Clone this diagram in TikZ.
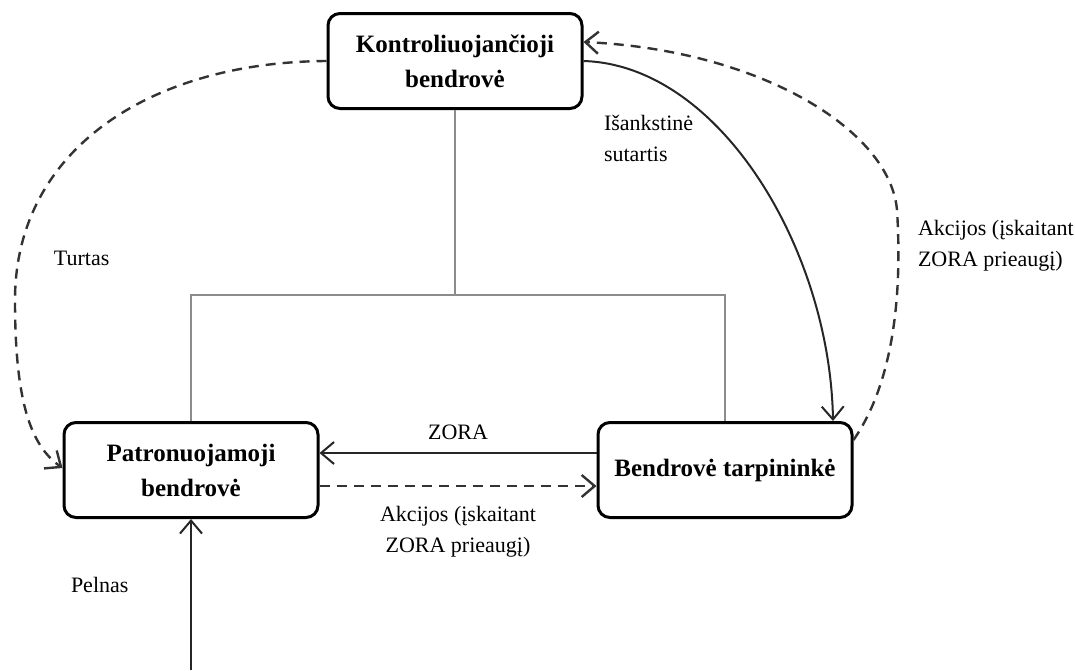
\documentclass[tikz,border=0pt]{standalone}
\usepackage{fontspec}
\setmainfont{Liberation Serif}
\usetikzlibrary{arrows.meta}

\begin{document}
\begin{tikzpicture}[x=0.5pt, y=-0.5pt, line width=1pt,
    >={Straight Barb[length=6.5pt,width=11pt]},
    firm/.style={draw, line width=1.5pt, rounded corners=6pt, align=center,
      minimum width=127pt, minimum height=47.5pt,
      font=\fontsize{12.5}{17.5}\selectfont\bfseries},
    flow/.style={draw=black!85},
    share/.style={draw=black!80, line width=1.2pt, dash pattern=on 5pt off 3.5pt},
    tree/.style={draw=black!45, line width=0.8pt},
    lbl/.style={inner sep=0pt, anchor=west, align=left,
      font=\fontsize{11}{15.5}\selectfont}]
  \useasboundingbox (0,0) rectangle (1075,670);

  % companies
  \node[firm] (kontr) at (455,61) {Kontroliuojančioji\\bendrovė};
  \node[firm] (patr) at (191,470) {Patronuojamoji\\bendrovė};
  \node[firm] (tarp) at (725,470) {Bendrovė tarpininkė};

  % ownership lines
  \draw[tree] (kontr.south) -- (455,295) coordinate (fork);
  \draw[tree] (patr.north) |- (fork) -| (tarp.north);

  % flows between the companies
  \draw[flow,->] ([yshift=8.5pt]tarp.west) -- ([yshift=8.5pt]patr.east)
    node[midway, above=3pt, font=\fontsize{11}{15.5}\selectfont] (zora) {ZORA};
  \draw[share,->] ([yshift=-8pt]patr.east) -- ([yshift=-8pt]tarp.west)
    node[midway, below=6pt, align=center, font=\fontsize{11}{15.5}\selectfont] (akc1)
    {Akcijos (įskaitant\\ZORA prieaugį)};
  \draw[flow,->] (kontr.east) .. controls (720,65) and (830,250) .. ([xshift=54pt]tarp.north);
  \draw[share,->] ([yshift=15pt]tarp.east) .. controls (895,380) and (902,290) .. (897,210)
    .. controls (890,130) and (760,50) .. ([yshift=9.5pt]kontr.east);
  \draw[share,->] (kontr.west) .. controls (150,62) and (15,150) .. (15,300)
    .. controls (15,400) and (30,445) .. ([yshift=1pt]patr.west);

  % profit from below
  \coordinate (src) at (191,670);
  \draw[flow,->] (src) -- (patr.south);

  % labels
  \node[lbl] (turtas) at (53,258) {Turtas};
  \node[lbl] (pelnas) at (70,585) {Pelnas};
  \node[lbl] (sut) at (603,138) {Išankstinė\\sutartis};
  \node[lbl] (akc2) at (917,246) {Akcijos (įskaitant\\ZORA prieaugį)};
\end{tikzpicture}
\end{document}
